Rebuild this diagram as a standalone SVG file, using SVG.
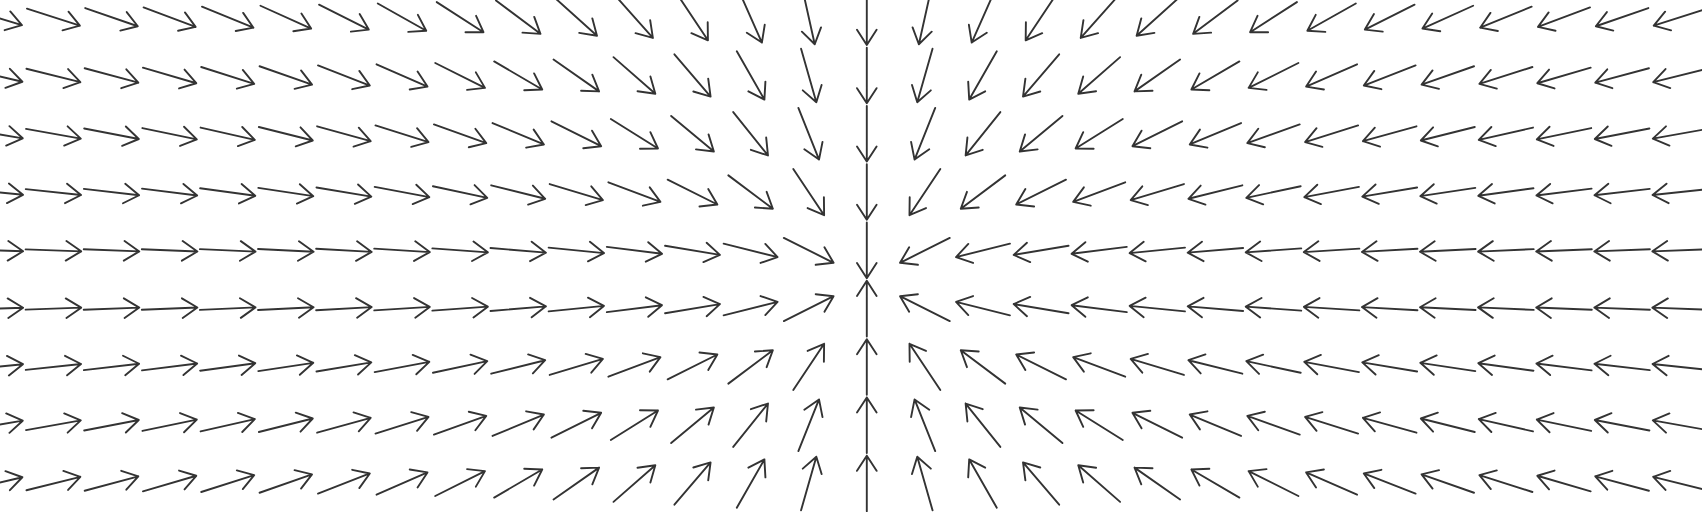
<svg xmlns="http://www.w3.org/2000/svg" width="1702" height="512" viewBox="0 0 1702 512">
<style>
.v path{fill:none;stroke:none;marker-start:url(#ar)}
.a{fill:none;stroke:#333;stroke-width:1.9;stroke-linecap:round;stroke-linejoin:round}
</style>
<defs>
<marker id="ar" markerUnits="userSpaceOnUse" orient="auto" overflow="visible" markerWidth="60" markerHeight="60" refX="0" refY="0">
<path class="a" d="M-27.8 0H27.8M12.7 -9.8L27.8 0L12.7 9.8"/>
</marker>
</defs>
<rect width="1702" height="512" fill="#fff"/>
<g class="v">
<g id="r0" transform="translate(0 17.15)"><path d="M-4.7 0l30 9"/><path d="M53.4 0l28 9"/><path d="M111.5 0l26 9"/><path d="M169.6 0l24 9"/><path d="M227.7 0l22 9"/><path d="M285.8 0l20 9"/><path d="M343.9 0l18 9"/><path d="M402 0l16 9"/><path d="M460.1 0l14 9"/><path d="M518.2 0l12 9"/><path d="M576.3 0l10 9"/><path d="M634.4 0l8 9"/><path d="M692.5 0l6 9"/><path d="M750.6 0l4 9"/><path d="M808.7 0l2 9"/><path d="M866.8 0l0 9"/><path d="M924.9 0l-2 9"/><path d="M983 0l-4 9"/><path d="M1041.1 0l-6 9"/><path d="M1099.2 0l-8 9"/><path d="M1157.3 0l-10 9"/><path d="M1215.4 0l-12 9"/><path d="M1273.5 0l-14 9"/><path d="M1331.6 0l-16 9"/><path d="M1389.7 0l-18 9"/><path d="M1447.8 0l-20 9"/><path d="M1505.9 0l-22 9"/><path d="M1564 0l-24 9"/><path d="M1622.1 0l-26 9"/><path d="M1680.2 0l-28 9"/></g>
<g id="r1" transform="translate(0 75.45)"><path d="M-4.7 0l30 7"/><path d="M53.4 0l28 7"/><path d="M111.5 0l26 7"/><path d="M169.6 0l24 7"/><path d="M227.7 0l22 7"/><path d="M285.8 0l20 7"/><path d="M343.9 0l18 7"/><path d="M402 0l16 7"/><path d="M460.1 0l14 7"/><path d="M518.2 0l12 7"/><path d="M576.3 0l10 7"/><path d="M634.4 0l8 7"/><path d="M692.5 0l6 7"/><path d="M750.6 0l4 7"/><path d="M808.7 0l2 7"/><path d="M866.8 0l0 7"/><path d="M924.9 0l-2 7"/><path d="M983 0l-4 7"/><path d="M1041.1 0l-6 7"/><path d="M1099.2 0l-8 7"/><path d="M1157.3 0l-10 7"/><path d="M1215.4 0l-12 7"/><path d="M1273.5 0l-14 7"/><path d="M1331.6 0l-16 7"/><path d="M1389.7 0l-18 7"/><path d="M1447.8 0l-20 7"/><path d="M1505.9 0l-22 7"/><path d="M1564 0l-24 7"/><path d="M1622.1 0l-26 7"/><path d="M1680.2 0l-28 7"/></g>
<g id="r2" transform="translate(0 133.75)"><path d="M-4.7 0l30 5"/><path d="M53.4 0l28 5"/><path d="M111.5 0l26 5"/><path d="M169.6 0l24 5"/><path d="M227.7 0l22 5"/><path d="M285.8 0l20 5"/><path d="M343.9 0l18 5"/><path d="M402 0l16 5"/><path d="M460.1 0l14 5"/><path d="M518.2 0l12 5"/><path d="M576.3 0l10 5"/><path d="M634.4 0l8 5"/><path d="M692.5 0l6 5"/><path d="M750.6 0l4 5"/><path d="M808.7 0l2 5"/><path d="M866.8 0l0 5"/><path d="M924.9 0l-2 5"/><path d="M983 0l-4 5"/><path d="M1041.1 0l-6 5"/><path d="M1099.2 0l-8 5"/><path d="M1157.3 0l-10 5"/><path d="M1215.4 0l-12 5"/><path d="M1273.5 0l-14 5"/><path d="M1331.6 0l-16 5"/><path d="M1389.7 0l-18 5"/><path d="M1447.8 0l-20 5"/><path d="M1505.9 0l-22 5"/><path d="M1564 0l-24 5"/><path d="M1622.1 0l-26 5"/><path d="M1680.2 0l-28 5"/></g>
<g id="r3" transform="translate(0 192.05)"><path d="M-4.7 0l30 3"/><path d="M53.4 0l28 3"/><path d="M111.5 0l26 3"/><path d="M169.6 0l24 3"/><path d="M227.7 0l22 3"/><path d="M285.8 0l20 3"/><path d="M343.9 0l18 3"/><path d="M402 0l16 3"/><path d="M460.1 0l14 3"/><path d="M518.2 0l12 3"/><path d="M576.3 0l10 3"/><path d="M634.4 0l8 3"/><path d="M692.5 0l6 3"/><path d="M750.6 0l4 3"/><path d="M808.7 0l2 3"/><path d="M866.8 0l0 3"/><path d="M924.9 0l-2 3"/><path d="M983 0l-4 3"/><path d="M1041.1 0l-6 3"/><path d="M1099.2 0l-8 3"/><path d="M1157.3 0l-10 3"/><path d="M1215.4 0l-12 3"/><path d="M1273.5 0l-14 3"/><path d="M1331.6 0l-16 3"/><path d="M1389.7 0l-18 3"/><path d="M1447.8 0l-20 3"/><path d="M1505.9 0l-22 3"/><path d="M1564 0l-24 3"/><path d="M1622.1 0l-26 3"/><path d="M1680.2 0l-28 3"/></g>
<g id="r4" transform="translate(0 250.35)"><path d="M-4.7 0l30 1"/><path d="M53.4 0l28 1"/><path d="M111.5 0l26 1"/><path d="M169.6 0l24 1"/><path d="M227.7 0l22 1"/><path d="M285.8 0l20 1"/><path d="M343.9 0l18 1"/><path d="M402 0l16 1"/><path d="M460.1 0l14 1"/><path d="M518.2 0l12 1"/><path d="M576.3 0l10 1"/><path d="M634.4 0l8 1"/><path d="M692.5 0l6 1"/><path d="M750.6 0l4 1"/><path d="M808.7 0l2 1"/><path d="M866.8 0l0 1"/><path d="M924.9 0l-2 1"/><path d="M983 0l-4 1"/><path d="M1041.1 0l-6 1"/><path d="M1099.2 0l-8 1"/><path d="M1157.3 0l-10 1"/><path d="M1215.4 0l-12 1"/><path d="M1273.5 0l-14 1"/><path d="M1331.6 0l-16 1"/><path d="M1389.7 0l-18 1"/><path d="M1447.8 0l-20 1"/><path d="M1505.9 0l-22 1"/><path d="M1564 0l-24 1"/><path d="M1622.1 0l-26 1"/><path d="M1680.2 0l-28 1"/></g>
<g id="r5" transform="translate(0 308.65)"><path d="M-4.7 0l30 -1"/><path d="M53.4 0l28 -1"/><path d="M111.5 0l26 -1"/><path d="M169.6 0l24 -1"/><path d="M227.7 0l22 -1"/><path d="M285.8 0l20 -1"/><path d="M343.9 0l18 -1"/><path d="M402 0l16 -1"/><path d="M460.1 0l14 -1"/><path d="M518.2 0l12 -1"/><path d="M576.3 0l10 -1"/><path d="M634.4 0l8 -1"/><path d="M692.5 0l6 -1"/><path d="M750.6 0l4 -1"/><path d="M808.7 0l2 -1"/><path d="M866.8 0l0 -1"/><path d="M924.9 0l-2 -1"/><path d="M983 0l-4 -1"/><path d="M1041.1 0l-6 -1"/><path d="M1099.2 0l-8 -1"/><path d="M1157.3 0l-10 -1"/><path d="M1215.4 0l-12 -1"/><path d="M1273.5 0l-14 -1"/><path d="M1331.6 0l-16 -1"/><path d="M1389.7 0l-18 -1"/><path d="M1447.8 0l-20 -1"/><path d="M1505.9 0l-22 -1"/><path d="M1564 0l-24 -1"/><path d="M1622.1 0l-26 -1"/><path d="M1680.2 0l-28 -1"/></g>
<g id="r6" transform="translate(0 366.95)"><path d="M-4.7 0l30 -3"/><path d="M53.4 0l28 -3"/><path d="M111.5 0l26 -3"/><path d="M169.6 0l24 -3"/><path d="M227.7 0l22 -3"/><path d="M285.8 0l20 -3"/><path d="M343.9 0l18 -3"/><path d="M402 0l16 -3"/><path d="M460.1 0l14 -3"/><path d="M518.2 0l12 -3"/><path d="M576.3 0l10 -3"/><path d="M634.4 0l8 -3"/><path d="M692.5 0l6 -3"/><path d="M750.6 0l4 -3"/><path d="M808.7 0l2 -3"/><path d="M866.8 0l0 -3"/><path d="M924.9 0l-2 -3"/><path d="M983 0l-4 -3"/><path d="M1041.1 0l-6 -3"/><path d="M1099.2 0l-8 -3"/><path d="M1157.3 0l-10 -3"/><path d="M1215.4 0l-12 -3"/><path d="M1273.5 0l-14 -3"/><path d="M1331.6 0l-16 -3"/><path d="M1389.7 0l-18 -3"/><path d="M1447.8 0l-20 -3"/><path d="M1505.9 0l-22 -3"/><path d="M1564 0l-24 -3"/><path d="M1622.1 0l-26 -3"/><path d="M1680.2 0l-28 -3"/></g>
<g id="r7" transform="translate(0 425.25)"><path d="M-4.7 0l30 -5"/><path d="M53.4 0l28 -5"/><path d="M111.5 0l26 -5"/><path d="M169.6 0l24 -5"/><path d="M227.7 0l22 -5"/><path d="M285.8 0l20 -5"/><path d="M343.9 0l18 -5"/><path d="M402 0l16 -5"/><path d="M460.1 0l14 -5"/><path d="M518.2 0l12 -5"/><path d="M576.3 0l10 -5"/><path d="M634.4 0l8 -5"/><path d="M692.5 0l6 -5"/><path d="M750.6 0l4 -5"/><path d="M808.7 0l2 -5"/><path d="M866.8 0l0 -5"/><path d="M924.9 0l-2 -5"/><path d="M983 0l-4 -5"/><path d="M1041.1 0l-6 -5"/><path d="M1099.2 0l-8 -5"/><path d="M1157.3 0l-10 -5"/><path d="M1215.4 0l-12 -5"/><path d="M1273.5 0l-14 -5"/><path d="M1331.6 0l-16 -5"/><path d="M1389.7 0l-18 -5"/><path d="M1447.8 0l-20 -5"/><path d="M1505.9 0l-22 -5"/><path d="M1564 0l-24 -5"/><path d="M1622.1 0l-26 -5"/><path d="M1680.2 0l-28 -5"/></g>
<g id="r8" transform="translate(0 483.55)"><path d="M-4.7 0l30 -7"/><path d="M53.4 0l28 -7"/><path d="M111.5 0l26 -7"/><path d="M169.6 0l24 -7"/><path d="M227.7 0l22 -7"/><path d="M285.8 0l20 -7"/><path d="M343.9 0l18 -7"/><path d="M402 0l16 -7"/><path d="M460.1 0l14 -7"/><path d="M518.2 0l12 -7"/><path d="M576.3 0l10 -7"/><path d="M634.4 0l8 -7"/><path d="M692.5 0l6 -7"/><path d="M750.6 0l4 -7"/><path d="M808.7 0l2 -7"/><path d="M866.8 0l0 -7"/><path d="M924.9 0l-2 -7"/><path d="M983 0l-4 -7"/><path d="M1041.1 0l-6 -7"/><path d="M1099.2 0l-8 -7"/><path d="M1157.3 0l-10 -7"/><path d="M1215.4 0l-12 -7"/><path d="M1273.5 0l-14 -7"/><path d="M1331.6 0l-16 -7"/><path d="M1389.7 0l-18 -7"/><path d="M1447.8 0l-20 -7"/><path d="M1505.9 0l-22 -7"/><path d="M1564 0l-24 -7"/><path d="M1622.1 0l-26 -7"/><path d="M1680.2 0l-28 -7"/></g>
</g>
</svg>
